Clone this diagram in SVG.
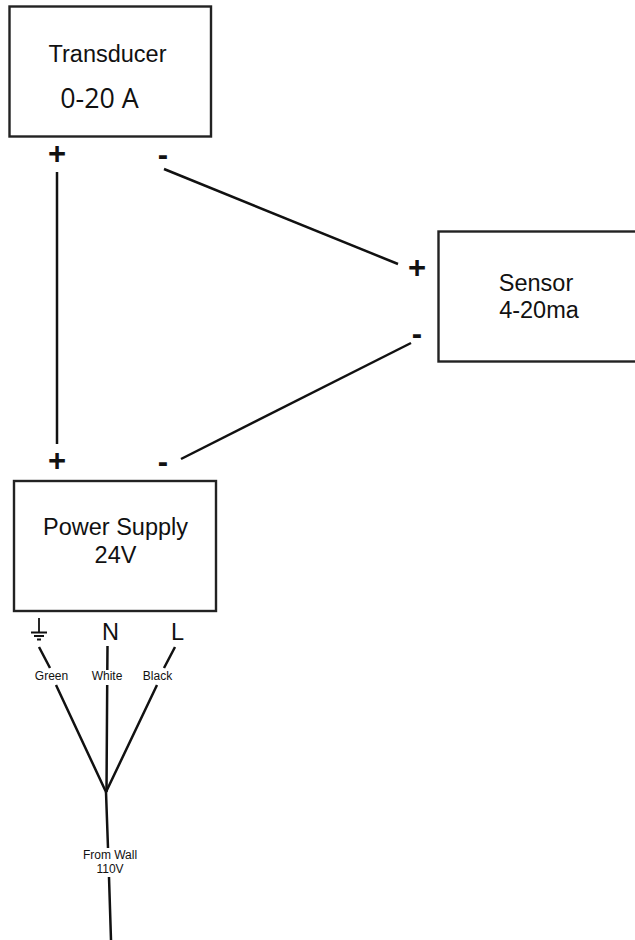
<svg xmlns="http://www.w3.org/2000/svg" width="635" height="940" viewBox="0 0 635 940">
<style>
.box{fill:#fff;stroke:#222;stroke-width:2.400}
.wire{fill:none;stroke:#111;stroke-width:2.500}
text{font-family:"Liberation Sans",Arial,sans-serif;fill:#111;text-anchor:middle}
.t{font-size:23.500px}
.s{font-size:12px}
.p{font-size:31px;font-weight:bold}
</style>
<rect width="635" height="940" fill="#fff"/>
<g id="connectors">
<path class="wire" d="M57 172V444"/>
<path class="wire" d="M164 169L398 264"/>
<path class="wire" d="M411 343L181 459"/>
<path class="wire" d="M39 647L50 668M56 685L106 792"/>
<path class="wire" d="M107.500 646L107.300 670M107.200 685L106.500 792"/>
<path class="wire" d="M175 647L164 668M157 685L106 792"/>
<path class="wire" d="M106 792L108 848M109 877L111 940"/>
</g>
<g id="transducer">
<rect class="box" x="9.500" y="6.500" width="201.500" height="130"/>
<text class="t" x="107.500" y="62">Transducer</text>
<text x="99.500" y="108" font-size="26.800" style="font-family:'Open Sans',sans-serif">0-20 A</text>
<text class="p" x="57" y="164">+</text>
<text class="p" x="163" y="165">-</text>
</g>
<g id="sensor">
<rect class="box" x="438.500" y="231.500" width="200" height="130"/>
<text class="t" x="536" y="291">Sensor</text>
<text class="t" x="539" y="318">4-20ma</text>
<text class="p" x="417" y="278">+</text>
<text class="p" x="417" y="344">-</text>
</g>
<g id="power-supply">
<rect class="box" x="14" y="481" width="202" height="130"/>
<text class="t" x="115.500" y="535">Power Supply</text>
<text class="t" x="115.500" y="563">24V</text>
<text class="p" x="57" y="471">+</text>
<text class="p" x="163" y="472">-</text>
</g>
<g id="terminals">
<path d="M39 618V632M31 632.500H47M34 636H44M37 639.500H41" fill="none" stroke="#111" stroke-width="1.800"/>
<text class="t" x="110.500" y="640">N</text>
<text class="t" x="177.500" y="640">L</text>
</g>
<g id="labels">
<text class="s" x="51.500" y="680">Green</text>
<text class="s" x="107" y="680">White</text>
<text class="s" x="157.500" y="680">Black</text>
<text class="s" x="110" y="859">From Wall</text>
<text class="s" x="110" y="873">110V</text>
</g>
</svg>
